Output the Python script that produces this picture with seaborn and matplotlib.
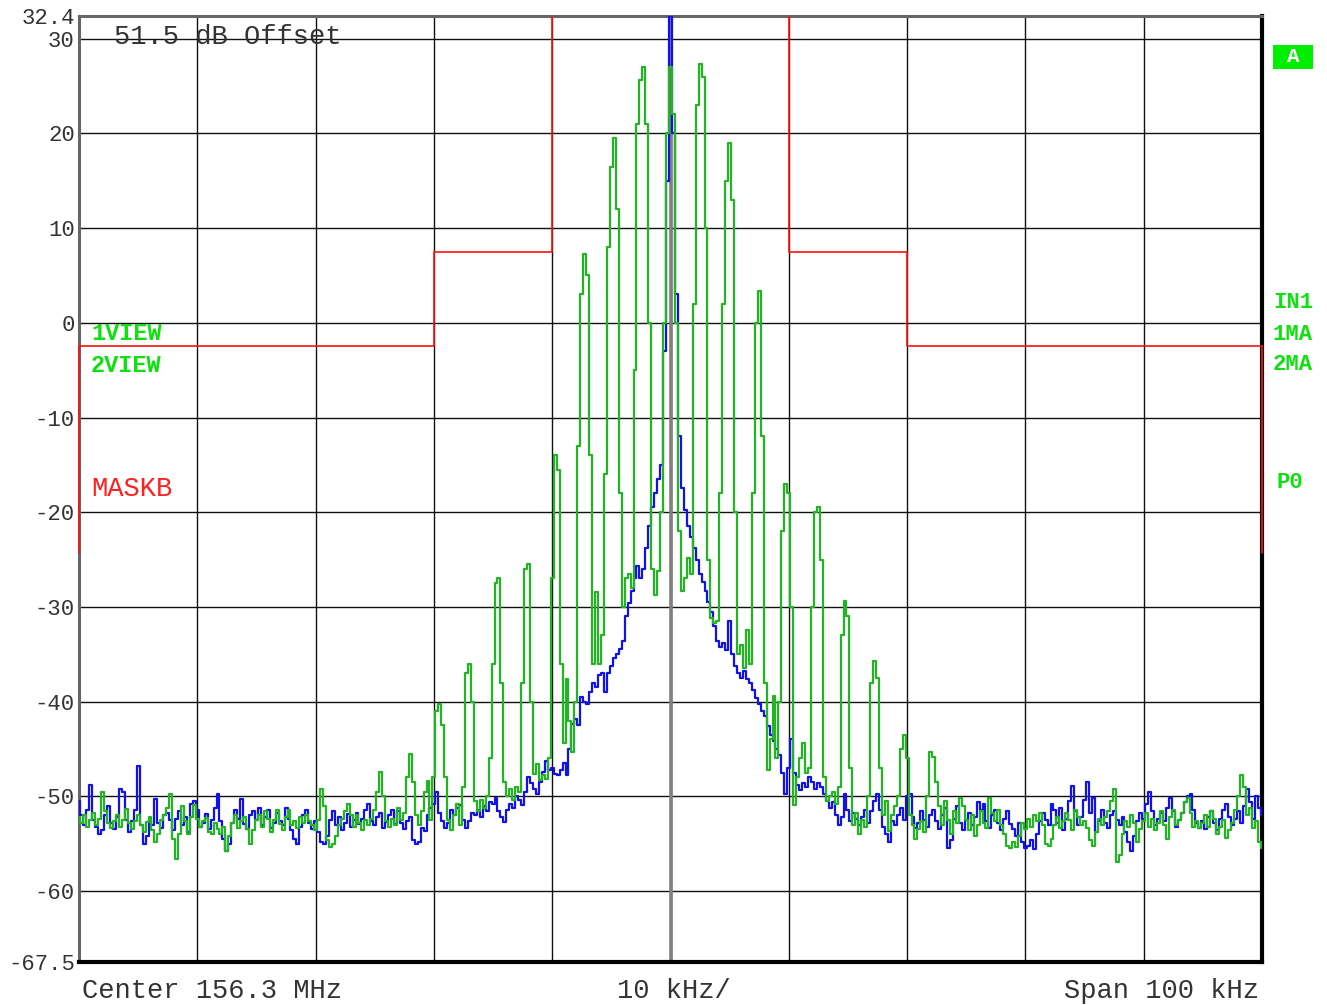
import numpy as np
import pandas as pd
import matplotlib
matplotlib.use("Agg")
import matplotlib.pyplot as plt
import seaborn as sns
from matplotlib.patches import Rectangle
from matplotlib.transforms import Bbox, TransformedBbox

# ---------------- data ----------------
f_start_khz = -50.0
f_step_khz = 0.25
n_points = 401

trace1_view = [  # blue trace (dB)
    -50.5, -52.0, -53.0, -51.5, -48.8, -52.5, -53.2, -54.0, -53.6, -52.0,
    -51.0, -52.8, -53.5, -52.2, -49.2, -49.5, -52.5, -53.8, -52.6, -51.5,
    -46.8, -53.0, -55.0, -54.2, -52.5, -53.0, -50.3, -52.8, -53.4, -52.0,
    -51.8, -52.5, -53.6, -52.4, -51.6, -53.0, -52.2, -53.8, -50.8, -50.5,
    -51.5, -53.2, -52.8, -51.9, -53.5, -52.5, -51.2, -49.8, -52.6, -54.5,
    -55.8, -55.0, -52.8, -51.5, -52.4, -50.3, -52.9, -53.5, -52.0, -51.6,
    -52.5, -51.2, -53.0, -52.2, -51.5, -53.4, -52.8, -51.8, -52.6, -53.0,
    -51.2, -52.4, -53.6, -54.5, -55.0, -53.2, -52.0, -51.5, -52.8, -53.5,
    -52.6, -53.8, -54.8, -55.0, -54.2, -52.5, -51.6, -53.0, -52.2, -53.6,
    -52.8, -51.9, -53.2, -52.5, -51.8, -52.9, -52.4, -51.5, -50.8, -52.6,
    -53.0, -52.2, -51.8, -53.4, -52.7, -52.0, -51.4, -52.9, -51.6, -52.8,
    -53.5, -52.6, -52.2, -54.6, -55.0, -54.8, -53.4, -53.7, -52.0, -51.2,
    -50.8, -49.5, -51.8, -52.6, -53.4, -52.8, -51.5, -52.0, -51.2, -50.9,
    -52.5, -53.4, -52.6, -51.8, -52.0, -51.4, -52.2, -51.0, -51.6, -50.6,
    -50.8, -50.2, -51.6, -52.2, -52.7, -51.5, -50.8, -51.2, -50.0, -50.4,
    -50.9, -49.5, -48.0, -48.6, -49.2, -49.8, -48.5, -47.4, -46.3, -47.2,
    -47.0, -47.6, -47.7, -47.2, -46.5, -47.7, -45.0, -42.4, -41.8, -42.5,
    -39.5, -40.0, -40.3, -39.0, -38.0, -38.5, -37.2, -37.0, -39.0, -37.0,
    -36.2, -35.4, -35.0, -34.4, -33.6, -31.0, -29.6, -28.3, -27.0, -25.7,
    -27.0, -26.0, -23.8, -21.5, -19.5, -18.0, -16.5, -15.0, -3.0, 15.0,
    32.4, 20.0, 3.0, -12.0, -17.4, -19.8, -21.5, -22.6, -23.8, -25.0,
    -26.5, -27.4, -28.3, -29.5, -30.5, -32.0, -33.6, -34.2, -33.8, -34.5,
    -31.5, -35.0, -36.2, -37.0, -37.5, -36.8, -37.6, -38.0, -38.8, -39.6,
    -40.3, -41.0, -41.5, -42.6, -43.5, -44.2, -45.0, -45.6, -47.5, -49.8,
    -47.0, -44.0, -47.5, -48.8, -49.3, -48.6, -49.0, -48.0, -48.5, -49.2,
    -48.6, -49.0, -49.8, -50.5, -51.2, -50.6, -52.0, -53.0, -52.2, -49.8,
    -51.5, -52.6, -51.8, -52.4, -53.0, -52.2, -51.4, -52.8, -51.6, -50.5,
    -49.8, -51.5, -53.2, -54.0, -54.8, -52.6, -53.0, -52.0, -51.2, -52.5,
    -50.0, -49.8, -52.2, -53.4, -52.8, -51.6, -52.5, -53.2, -52.0, -51.4,
    -52.6, -53.5, -52.0, -51.2, -55.5, -54.6, -52.4, -51.0, -52.8, -53.6,
    -52.5, -51.8, -53.0, -52.2, -50.6, -51.4, -50.8, -52.6, -53.4, -52.0,
    -51.5, -52.8, -53.6, -52.4, -51.6, -52.9, -53.5, -54.2, -52.8, -54.8,
    -55.5, -55.2, -54.6, -55.6, -54.0, -52.6, -51.8, -52.5, -53.0, -50.8,
    -51.5, -52.8, -51.2, -53.6, -52.4, -50.5, -48.9, -51.6, -53.0, -52.2,
    -50.4, -48.5, -51.8, -50.2, -53.8, -52.6, -51.5, -52.8, -53.4, -52.0,
    -51.6, -52.5, -53.0, -52.2, -53.8, -54.8, -55.8, -54.2, -52.6, -51.8,
    -52.4, -50.8, -49.5, -51.6, -53.0, -52.4, -51.8, -52.6, -51.2, -50.2,
    -51.6, -53.2, -52.5, -51.8, -50.6, -50.0, -49.8, -51.4, -52.8, -53.4,
    -52.6, -53.5, -52.2, -51.6, -52.8, -53.6, -52.4, -51.5, -50.8, -52.2,
    -53.0, -52.4, -51.6, -52.8, -51.0, -49.2, -50.6, -52.4, -50.0, -51.2,
    -52.0,
]

trace2_view = [  # green trace (dB)
    -52.2, -52.8, -52.0, -53.2, -52.5, -51.8, -53.0, -52.4, -49.5, -51.6,
    -52.8, -53.4, -52.6, -52.0, -53.2, -52.5, -51.3, -52.8, -53.5, -52.6,
    -52.0, -53.0, -53.8, -52.7, -52.2, -53.6, -54.8, -54.0, -52.5, -52.0,
    -51.2, -49.8, -54.5, -56.6, -54.0, -51.0, -52.6, -54.0, -52.2, -50.9,
    -52.4, -53.2, -52.6, -52.3, -53.8, -54.0, -52.8, -53.5, -54.0, -53.2,
    -55.8, -54.2, -52.8, -52.0, -53.4, -52.6, -52.2, -53.5, -55.0, -53.6,
    -52.5, -52.0, -53.2, -51.6, -52.4, -53.8, -52.5, -51.4, -52.9, -53.6,
    -52.2, -51.5, -53.0, -52.6, -53.4, -52.2, -52.8, -52.0, -52.6, -53.0,
    -53.6, -52.5, -49.2, -51.0, -54.6, -55.4, -55.0, -54.2, -53.0, -52.4,
    -51.6, -50.8, -52.0, -53.2, -52.0, -52.8, -53.6, -52.5, -53.0, -52.4,
    -51.5, -49.5, -47.4, -50.0, -52.6, -53.2, -52.4, -53.0, -51.2, -52.5,
    -51.8, -48.0, -45.5, -48.5, -52.0, -53.0, -51.6, -49.5, -48.4, -52.5,
    -48.0, -41.0, -40.3, -42.5, -48.0, -52.5, -53.6, -52.0, -50.8, -53.0,
    -49.0, -37.0, -36.0, -40.0, -50.5, -51.6, -50.4, -51.2, -50.0, -46.0,
    -36.0, -27.5, -27.0, -38.0, -48.5, -50.0, -49.2, -50.4, -49.0, -49.6,
    -38.0, -26.0, -25.5, -40.0, -47.6, -46.6, -48.3, -47.8, -48.2, -46.0,
    -27.0, -14.0, -15.5, -36.0, -44.4, -37.6, -42.0, -45.3, -40.0, -13.0,
    3.0, 7.3, 5.0, -14.0, -36.0, -28.4, -36.0, -33.0, -16.0, 8.0,
    16.5, 19.5, 12.0, -18.0, -30.0, -27.0, -26.5, -28.0, -5.0, 21.0,
    25.6, 27.0, 21.0, 0.0, -26.0, -28.7, -26.2, -20.0, 0.0, 20.0,
    27.0, 22.0, 0.0, -22.0, -28.3, -27.0, -24.8, -26.5, 2.0, 23.0,
    27.3, 26.0, 10.0, -25.0, -31.2, -31.7, -31.5, -18.0, 2.0, 15.0,
    19.0, 13.0, -20.0, -35.0, -34.0, -36.5, -32.4, -36.0, -18.0, 0.0,
    3.4, -12.0, -38.0, -47.2, -44.0, -39.4, -46.0, -40.0, -22.0, -17.0,
    -18.0, -30.0, -50.9, -48.0, -46.0, -44.4, -47.5, -47.0, -30.0, -20.0,
    -19.4, -25.0, -48.0, -50.5, -50.0, -49.5, -50.8, -49.0, -33.0, -29.4,
    -31.0, -47.0, -53.0, -51.8, -54.0, -52.5, -53.2, -50.0, -38.0, -35.7,
    -37.5, -47.0, -52.0, -50.5, -53.7, -52.0, -51.0, -50.0, -45.0, -43.5,
    -46.0, -52.0, -53.0, -54.5, -53.5, -52.6, -53.8, -50.0, -45.3, -45.8,
    -48.5, -51.0, -53.0, -50.5, -52.5, -54.0, -51.6, -52.8, -50.2, -51.0,
    -52.5, -53.6, -52.0, -54.2, -53.0, -51.6, -52.8, -53.4, -50.2, -51.8,
    -52.6, -51.4, -53.0, -54.0, -55.2, -55.5, -54.8, -55.4, -54.2, -52.8,
    -53.5, -52.4, -53.2, -52.0, -52.6, -51.8, -53.0, -55.0, -55.2, -54.5,
    -53.0, -52.2, -53.4, -52.6, -51.8, -52.5, -53.6, -51.5, -52.2, -53.0,
    -52.6, -53.4, -54.6, -55.2, -53.8, -52.4, -53.0, -52.2, -51.6, -50.5,
    -49.2, -56.9, -56.2, -54.0, -52.6, -53.2, -52.0, -52.8, -54.8, -53.5,
    -52.6, -51.8, -53.2, -52.4, -53.6, -52.8, -51.6, -53.0, -54.5, -52.2,
    -51.4, -53.0, -52.5, -51.8, -50.6, -50.2, -51.8, -53.2, -52.6, -53.4,
    -52.8, -52.0, -53.2, -51.6, -52.4, -54.0, -53.2, -52.5, -54.4, -53.6,
    -52.8, -51.5, -50.0, -47.7, -49.0, -52.0, -51.2, -53.4, -52.6, -54.8,
    -55.5,
]

mask_f = [-50, -50, -20, -20, -10, -10, 10, 10, 20, 20, 50, 50]
mask_db = [-24.3, -2.5, -2.5, 7.5, 7.5, 40, 40, 7.5, 7.5, -2.5, -2.5, -24.3]

ytick_vals = [32.4, 30, 20, 10, 0, -10, -20, -30, -40, -50, -60, -67.5]
ytick_labels = ["32.4", "30", "20", "10", "0", "-10", "-20", "-30", "-40",
                "-50", "-60", "-67.5"]
xgrid_vals = [-50, -40, -30, -20, -10, 0, 10, 20, 30, 40, 50]

assert len(trace1_view) == n_points and len(trace2_view) == n_points
freq = f_start_khz + f_step_khz * np.arange(n_points)
df = pd.DataFrame({"f": freq, "t1": trace1_view, "t2": trace2_view})

# ---------------- figure ----------------
sns.set_style("white")
plt.rcParams["font.family"] = ["Liberation Mono", "DejaVu Sans Mono"]

W, H = 1327, 1005
fig = plt.figure(figsize=(W / 100, H / 100), dpi=100)
L, R, T, B = 79, 1262, 16, 962
ax = fig.add_axes([L / W, 1 - B / H, (R - L) / W, (B - T) / H])

def fx(px):
    return px / W

def fy(py):
    return 1 - py / H

sns.lineplot(data=df, x="f", y="t1", ax=ax, color="#1212e8", lw=1.6,
             estimator=None, sort=False, zorder=3, drawstyle="steps-mid")
sns.lineplot(data=df, x="f", y="t2", ax=ax, color="#22b422", lw=1.6,
             estimator=None, sort=False, zorder=4, drawstyle="steps-mid")
sns.lineplot(x=mask_f, y=mask_db, ax=ax, color="#ff1010", lw=1.2,
             estimator=None, sort=False, zorder=6)
mask_line = ax.lines[-1]
# let the mask's edge verticals show on the frame, while still clipping the top
mask_line.set_clip_box(TransformedBbox(Bbox([[-0.004, 0.0], [1.004, 1.0]]),
                                       ax.transAxes))

ax.set_xlim(-50, 50)
ax.set_ylim(-67.5, 32.4)
ax.set_xticks(xgrid_vals)
ax.set_xticklabels([])
ax.set_yticks(ytick_vals)
ax.set_yticklabels(ytick_labels, fontsize=16, color="#333333")
ax.tick_params(length=0, pad=3)
ax.grid(True, color="#111111", lw=1.0, zorder=1)
ax.set_axisbelow(True)
ax.axvline(0, color="#808080", lw=2.6, zorder=1.5)
ax.set_xlabel("")
ax.set_ylabel("")

for side in ["top", "left"]:
    ax.spines[side].set_color("#666666")
    ax.spines[side].set_linewidth(2.2)
for side in ["right", "bottom"]:
    ax.spines[side].set_color("#000000")
    ax.spines[side].set_linewidth(3.0)

# ---------------- annotations ----------------
txt_col = "#333333"
big = 19.5
fig.text(fx(114), fy(37), "51.5 dB Offset", fontsize=big, color=txt_col,
         ha="left", va="center")
fig.text(fx(82), fy(991), "Center 156.3 MHz", fontsize=big, color=txt_col,
         ha="left", va="center")
fig.text(fx(674), fy(991), "10 kHz/", fontsize=big, color=txt_col,
         ha="center", va="center")
fig.text(fx(1259), fy(991), "Span 100 kHz", fontsize=big, color=txt_col,
         ha="right", va="center")

lab_green = "#10e010"
fig.text(fx(91), fy(334), "1VIEW", fontsize=17, fontweight="bold",
         color=lab_green, ha="left", va="center")
fig.text(fx(91), fy(365), "2VIEW", fontsize=17, fontweight="bold",
         color=lab_green, ha="left", va="center")
fig.text(fx(91), fy(489), "MASKB", fontsize=19.5, color="#ff2020",
         ha="left", va="center")

for label, py in [("IN1", 303), ("1MA", 334), ("2MA", 365)]:
    fig.text(fx(1273), fy(py), label, fontsize=16, fontweight="bold",
             color=lab_green, ha="left", va="center")
fig.text(fx(1276), fy(483), "P0", fontsize=16, fontweight="bold",
         color=lab_green, ha="left", va="center")

fig.patches.append(Rectangle((fx(1273), fy(69)), (1313 - 1273) / W, 24 / H,
                             transform=fig.transFigure, facecolor="#00ee00",
                             edgecolor="none"))
fig.text(fx(1293), fy(57), "A", fontsize=15, fontweight="bold",
         color="white", ha="center", va="center")

fig.savefig("out.png", dpi=100, facecolor="white")
